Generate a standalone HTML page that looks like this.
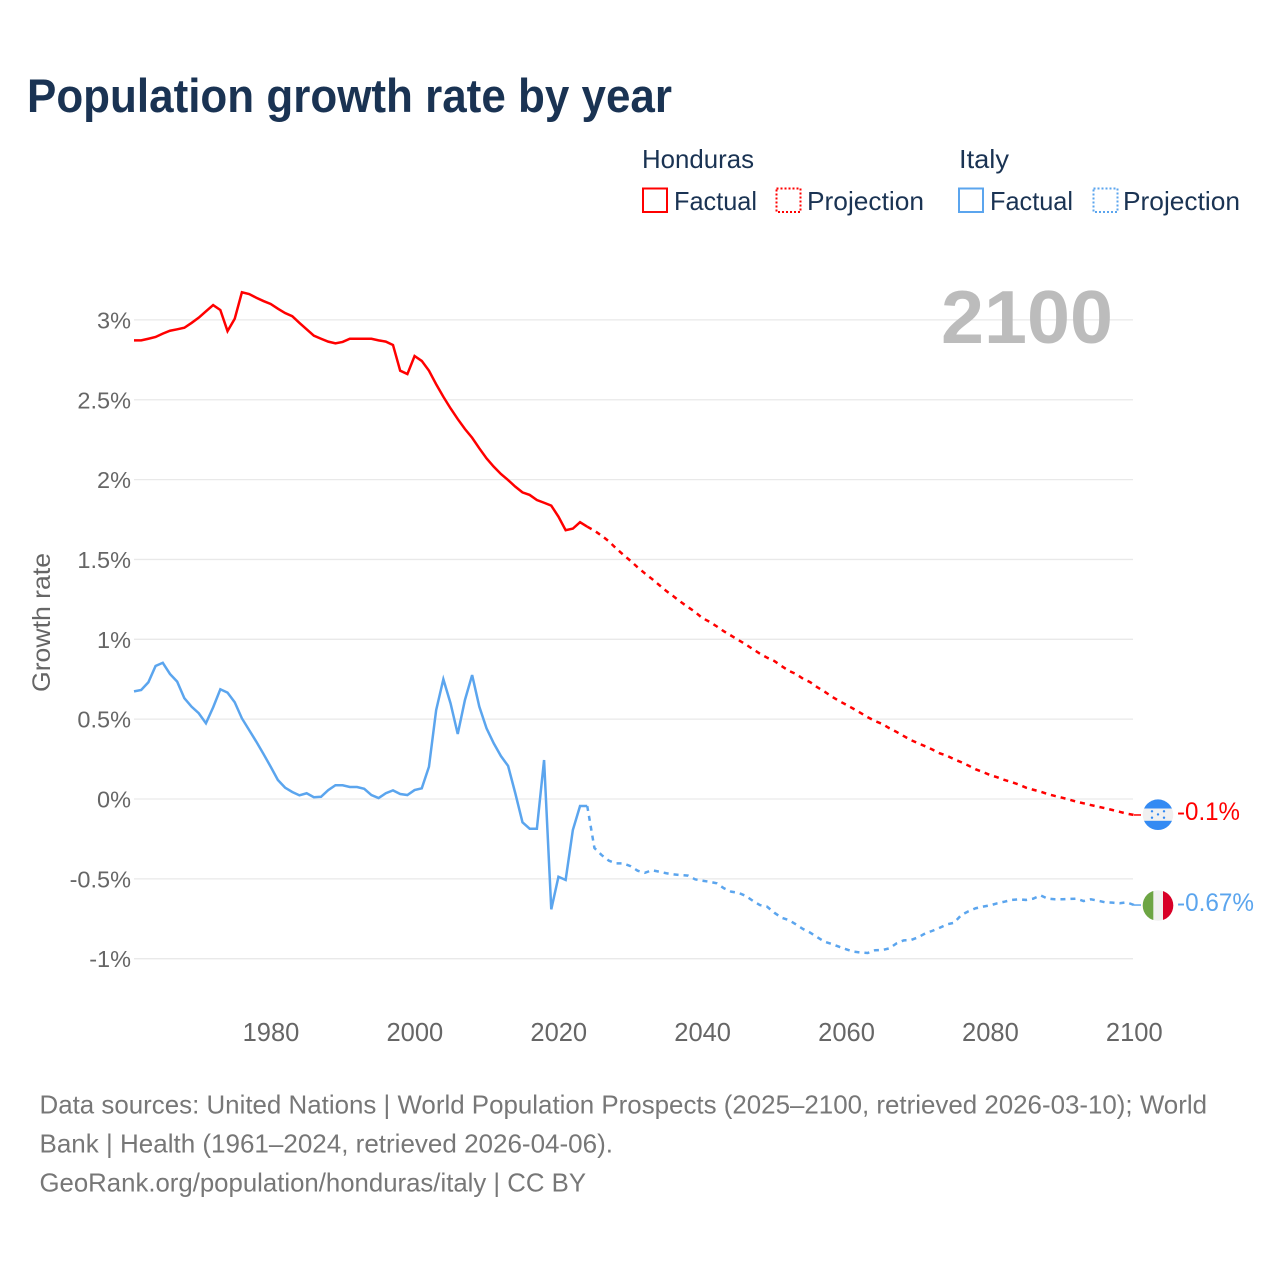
<!DOCTYPE html>
<html lang="en">
<head>
<meta charset="utf-8">
<title>Population growth rate by year</title>
<style>
html,body{margin:0;padding:0;background:#fff;width:1280px;height:1280px;overflow:hidden}
svg{display:block}
text{font-family:"Liberation Sans",sans-serif}
</style>
</head>
<body>
<svg id="chart" xmlns="http://www.w3.org/2000/svg" width="1280" height="1280" viewBox="0 0 1280 1280">
  <rect width="1280" height="1280" fill="#fff"/>
  <text x="27" y="112" font-size="47" font-weight="700" fill="#1a3353" textLength="645" lengthAdjust="spacingAndGlyphs">Population growth rate by year</text>

  <g fill="#1a3353" font-size="26">
    <text x="642" y="168" textLength="112" lengthAdjust="spacingAndGlyphs">Honduras</text>
    <rect x="643" y="188.5" width="24" height="23.5" fill="none" stroke="#ff0000" stroke-width="2"/>
    <text x="674" y="210" textLength="83" lengthAdjust="spacingAndGlyphs">Factual</text>
    <rect x="776.5" y="188.5" width="24" height="23.5" fill="none" stroke="#ff0000" stroke-width="2" stroke-dasharray="2 2"/>
    <text x="807" y="210" textLength="117" lengthAdjust="spacingAndGlyphs">Projection</text>
    <text x="959" y="168" textLength="50" lengthAdjust="spacingAndGlyphs">Italy</text>
    <rect x="959" y="188.5" width="24" height="23.5" fill="none" stroke="#5ba5ee" stroke-width="2"/>
    <text x="990" y="210" textLength="83" lengthAdjust="spacingAndGlyphs">Factual</text>
    <rect x="1093.5" y="188.5" width="24" height="23.5" fill="none" stroke="#5ba5ee" stroke-width="2" stroke-dasharray="2 2"/>
    <text x="1123" y="210" textLength="117" lengthAdjust="spacingAndGlyphs">Projection</text>
  </g>

  <g id="grid"></g>
  <g id="yTicks"></g>
  <g id="xTicks"></g>
  <text transform="translate(50,622.5) rotate(-90)" text-anchor="middle" font-size="25" fill="#666" textLength="139" lengthAdjust="spacingAndGlyphs">Growth rate</text>
  <text x="941" y="343" font-size="75" font-weight="700" fill="#bcbcbc" textLength="172" lengthAdjust="spacingAndGlyphs">2100</text>
  <g id="series"></g>

  <g>
    <clipPath id="clipHn"><circle cx="1158" cy="814.7" r="15.3"/></clipPath>
    <g clip-path="url(#clipHn)">
      <rect x="1142" y="799" width="32" height="32" fill="#f0f0f0"/>
      <rect x="1142" y="799" width="32" height="9.5" fill="#338af3"/>
      <rect x="1142" y="820.8" width="32" height="10" fill="#338af3"/>
      <circle cx="1152" cy="811.3" r="1.2" fill="#338af3"/>
      <circle cx="1164" cy="811.3" r="1.2" fill="#338af3"/>
      <circle cx="1158" cy="814.4" r="1.2" fill="#338af3"/>
      <circle cx="1152" cy="817.7" r="1.2" fill="#338af3"/>
      <circle cx="1164" cy="817.7" r="1.2" fill="#338af3"/>
    </g>
  </g>
  <g>
    <clipPath id="clipIt"><circle cx="1158" cy="905.5" r="15.3"/></clipPath>
    <g clip-path="url(#clipIt)">
      <rect x="1142" y="889" width="32" height="33" fill="#f0f0f0"/>
      <rect x="1142" y="889" width="11.3" height="33" fill="#6da544"/>
      <rect x="1163" y="889" width="11" height="33" fill="#d80027"/>
    </g>
  </g>
  <text x="1177" y="820" font-size="25" fill="#ff0000" textLength="63" lengthAdjust="spacingAndGlyphs">-0.1%</text>
  <text x="1177" y="911" font-size="25" fill="#5ba5ee" textLength="77" lengthAdjust="spacingAndGlyphs">-0.67%</text>

  <g font-size="26" fill="#777">
    <text x="39.5" y="1113.5" textLength="1167.5" lengthAdjust="spacingAndGlyphs">Data sources: United Nations | World Population Prospects (2025–2100, retrieved 2026-03-10); World</text>
    <text x="39.5" y="1152.5" textLength="573.5" lengthAdjust="spacingAndGlyphs">Bank | Health (1961–2024, retrieved 2026-04-06).</text>
    <text x="39.5" y="1191.5" textLength="546.5" lengthAdjust="spacingAndGlyphs">GeoRank.org/population/honduras/italy | CC BY</text>
  </g>
</svg>
<script>
const firstYear = 1961;
const lastFactualYear = 2024;
const yTickValues = [3, 2.5, 2, 1.5, 1, 0.5, 0, -0.5, -1];
const yTickLabels = ["3%", "2.5%", "2%", "1.5%", "1%", "0.5%", "0%", "-0.5%", "-1%"];
const xTickYears = [1980, 2000, 2020, 2040, 2060, 2080, 2100];

const hondurasFactual = [
2.872,2.872,2.882,2.893,2.914,2.932,2.941,2.951,2.981,3.014,
3.054,3.093,3.062,2.930,3.007,3.173,3.162,3.139,3.118,3.100,
3.070,3.043,3.023,2.981,2.941,2.901,2.882,2.864,2.853,2.862,
2.882,2.882,2.882,2.882,2.872,2.864,2.843,2.682,2.661,2.774,
2.743,2.682,2.597,2.519,2.446,2.379,2.317,2.262,2.196,2.133,
2.081,2.035,1.997,1.956,1.920,1.904,1.872,1.855,1.837,1.768,
1.683,1.693,1.733,1.705];

const hondurasProjection = [
1.680,1.649,1.614,1.570,1.530,1.492,1.451,1.413,1.378,1.340,
1.302,1.269,1.234,1.202,1.171,1.133,1.110,1.081,1.050,1.023,
0.996,0.969,0.939,0.910,0.885,0.864,0.833,0.803,0.783,0.753,
0.731,0.699,0.672,0.641,0.614,0.590,0.565,0.539,0.512,0.488,
0.470,0.443,0.420,0.394,0.369,0.349,0.330,0.309,0.286,0.271,
0.249,0.230,0.209,0.186,0.169,0.150,0.136,0.119,0.106,0.090,
0.071,0.058,0.046,0.031,0.019,0.008,-0.004,-0.017,-0.027,-0.038,
-0.048,-0.058,-0.069,-0.080,-0.092,-0.100];

const italyFactual = [
0.674,0.683,0.731,0.833,0.853,0.783,0.735,0.631,0.578,0.537,
0.474,0.574,0.687,0.666,0.606,0.505,0.432,0.359,0.282,0.202,
0.119,0.071,0.044,0.023,0.036,0.011,0.014,0.056,0.086,0.086,
0.075,0.075,0.064,0.025,0.006,0.036,0.054,0.031,0.025,0.056,
0.067,0.202,0.557,0.750,0.599,0.407,0.620,0.776,0.578,0.443,
0.349,0.269,0.207,0.036,-0.146,-0.186,-0.186,0.244,-0.691,-0.487,
-0.507,-0.194,-0.044,-0.044];

const italyProjection = [
-0.307,-0.351,-0.386,-0.403,-0.403,-0.420,-0.449,-0.462,-0.446,-0.455,
-0.465,-0.472,-0.476,-0.480,-0.503,-0.512,-0.518,-0.528,-0.559,-0.580,
-0.587,-0.606,-0.637,-0.664,-0.674,-0.712,-0.743,-0.758,-0.785,-0.814,
-0.837,-0.866,-0.894,-0.908,-0.925,-0.941,-0.956,-0.961,-0.964,-0.947,
-0.946,-0.935,-0.904,-0.885,-0.883,-0.866,-0.841,-0.825,-0.806,-0.785,
-0.775,-0.726,-0.703,-0.684,-0.674,-0.666,-0.653,-0.643,-0.632,-0.628,
-0.632,-0.624,-0.603,-0.624,-0.628,-0.628,-0.626,-0.624,-0.639,-0.628,
-0.637,-0.647,-0.649,-0.653,-0.647,-0.664];

const SVG_NS = "http://www.w3.org/2000/svg";
const plotLeft = 134, plotRight = 1134;
function xScale(year) { return plotLeft + (year - 1961) * (plotRight - plotLeft) / (2100 - 1961); }
function yScale(value) { return 799 - value * 159.7; }
function make(tag, parent) {
  const el = document.createElementNS(SVG_NS, tag);
  document.getElementById(parent).appendChild(el);
  return el;
}

yTickValues.forEach(function (v, i) {
  const line = make("line", "grid");
  
  
  line.setAttribute("x1", plotLeft);
  line.setAttribute("x2", plotRight - 1);
  line.setAttribute("y1", yScale(v));
  line.setAttribute("y2", yScale(v));
  line.setAttribute("stroke", "#e9e9e9");
  line.setAttribute("stroke-width", "1.3");

  const label = make("text", "yTicks");
  
  
  label.setAttribute("x", 131);
  label.setAttribute("y", yScale(v) + 8.5);
  label.setAttribute("text-anchor", "end");
  label.setAttribute("font-size", "23.5");
  label.setAttribute("fill", "#666");
  label.textContent = yTickLabels[i];
});

xTickYears.forEach(function (year) {
  const label = make("text", "xTicks");
  
  
  label.setAttribute("x", xScale(year) + 0.3);
  label.setAttribute("y", 1041);
  label.setAttribute("text-anchor", "middle");
  label.setAttribute("font-size", "25.5");
  label.setAttribute("fill", "#666");
  label.textContent = String(year);
});

function pathFrom(values, startYear) {
  return values.map(function (v, i) {
    return (i ? "L" : "M") + xScale(startYear + i).toFixed(2) + " " + yScale(v).toFixed(2);
  }).join(" ");
}

const hnFactualPath = make("path", "series");


hnFactualPath.setAttribute("d", pathFrom(hondurasFactual, firstYear));
hnFactualPath.setAttribute("fill", "none");
hnFactualPath.setAttribute("stroke", "#ff0000");
hnFactualPath.setAttribute("stroke-width", "2.5");

const hnProjectionPath = make("path", "series");


hnProjectionPath.setAttribute("d", pathFrom(hondurasFactual.slice(-1).concat(hondurasProjection), lastFactualYear));
hnProjectionPath.setAttribute("fill", "none");
hnProjectionPath.setAttribute("stroke", "#ff0000");
hnProjectionPath.setAttribute("stroke-width", "2.5");
hnProjectionPath.setAttribute("stroke-dasharray", "5 5");

const itFactualPath = make("path", "series");


itFactualPath.setAttribute("d", pathFrom(italyFactual, firstYear));
itFactualPath.setAttribute("fill", "none");
itFactualPath.setAttribute("stroke", "#5ba5ee");
itFactualPath.setAttribute("stroke-width", "2.5");

const itProjectionPath = make("path", "series");


itProjectionPath.setAttribute("d", pathFrom(italyFactual.slice(-1).concat(italyProjection), lastFactualYear));
itProjectionPath.setAttribute("fill", "none");
itProjectionPath.setAttribute("stroke", "#5ba5ee");
itProjectionPath.setAttribute("stroke-width", "2.5");
itProjectionPath.setAttribute("stroke-dasharray", "5 5");

const hnConnector = make("line", "series");


hnConnector.setAttribute("x1", xScale(2100));
hnConnector.setAttribute("x2", 1141);
hnConnector.setAttribute("y1", yScale(hondurasProjection[hondurasProjection.length - 1]));
hnConnector.setAttribute("y2", yScale(hondurasProjection[hondurasProjection.length - 1]));
hnConnector.setAttribute("stroke", "#ff0000");
hnConnector.setAttribute("stroke-width", "1.5");

const itConnector = make("line", "series");


itConnector.setAttribute("x1", xScale(2100));
itConnector.setAttribute("x2", 1141);
itConnector.setAttribute("y1", yScale(italyProjection[italyProjection.length - 1]));
itConnector.setAttribute("y2", yScale(italyProjection[italyProjection.length - 1]));
itConnector.setAttribute("stroke", "#5ba5ee");
itConnector.setAttribute("stroke-width", "1.5");
</script>
</body>
</html>
